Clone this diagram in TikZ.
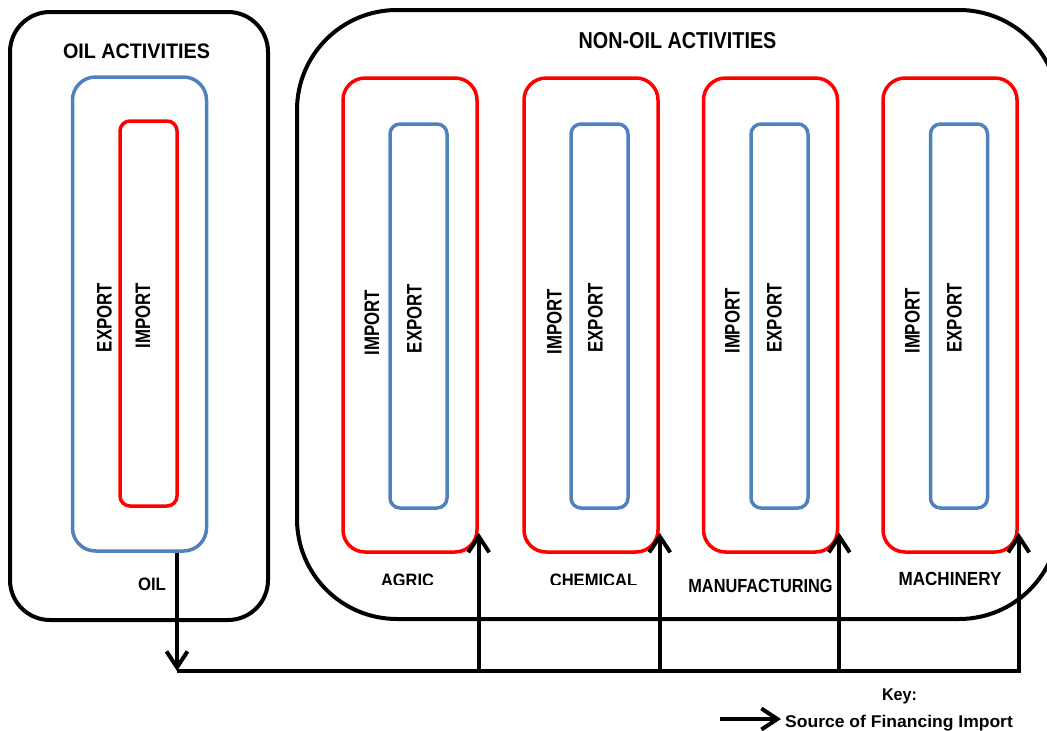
\documentclass[tikz,border=0pt]{standalone}
\usepackage{fontspec}
\setmainfont{Liberation Sans}
\usetikzlibrary{arrows.meta}
\definecolor{boxblue}{HTML}{4F81BD}
\definecolor{boxred}{HTML}{FF0000}
\newcommand\lbl[3]{{\fontsize{#1pt}{#1pt}\selectfont\bfseries\scalebox{#2}[1]{#3}}}
\tikzset{
  blackbox/.style={draw=black, line width=4pt, inner sep=0pt},
  redbox/.style={draw=boxred, line width=3.5pt, inner sep=0pt, rounded corners=22pt},
  bluebox/.style={draw=boxblue, line width=3.5pt, inner sep=0pt, rounded corners=10pt},
  txt/.style={inner sep=0pt, anchor=base},
  vtxt/.style={inner sep=0pt, anchor=center, rotate=90},
  wire/.style={line width=4pt, line cap=butt, line join=miter},
  flow/.style={wire, -{Straight Barb[length=16pt, width=21pt, line width=4pt]}},
}
\begin{document}
\begin{tikzpicture}[x=1pt, y=-1pt]
\useasboundingbox (0,0) rectangle (1047,731);
\clip (0,0) rectangle (1047,731);

% Oil block
\node[blackbox, rounded corners=40pt, minimum width=258pt, minimum height=608pt] (oil) at (139,316) {};
\node[txt] (oiltitle) at (136.5,58) {\lbl{21}{0.94}{OIL ACTIVITIES}};
\node[draw=boxblue, line width=3.5pt, inner sep=0pt, rounded corners=23pt, minimum width=134pt, minimum height=474pt] (oilblue) at (139.5,314) {};
\node[bluebox, draw=boxred, minimum width=57pt, minimum height=385pt] (oilred) at (148.5,313.5) {};
\node[vtxt] (oilexp) at (104.5,317.5) {\lbl{21}{0.8}{EXPORT}};
\node[vtxt] (oilimp) at (143,315.5) {\lbl{21}{0.8}{IMPORT}};
\node[txt] (oillbl) at (152,590) {\lbl{18}{0.93}{OIL}};

% Non-oil block
\node[blackbox, rounded corners=100pt, minimum width=762pt, minimum height=609pt] (nonoil) at (678,314.5) {};
\node[txt] (nonoiltitle) at (677.5,48) {\lbl{23}{0.86}{NON-OIL ACTIVITIES}};

\foreach \n/\rx/\bx/\ix/\iy/\ex/\ey in {1/410/418.5/372/322.5/414.5/318.5,
                                     2/591/599.5/554.5/321.5/595.5/318,
                                     3/770.5/779.5/732.5/321/774.5/318,
                                     4/950/959/912.5/321/954.5/318}{
  \node[redbox, minimum width=134pt, minimum height=474pt] (r\n) at (\rx,315) {};
  \node[bluebox, minimum width=57pt, minimum height=384pt] (b\n) at (\bx,316) {};
  \node[vtxt] (imp\n) at (\ix,\iy) {\lbl{21}{0.8}{IMPORT}};
  \node[vtxt] (exp\n) at (\ex,\ey) {\lbl{21}{0.8}{EXPORT}};
}

\begin{scope}
  \clip (350,560) rectangle (700,584.5);
  \node[txt] (agric) at (407.5,586) {\lbl{18}{0.91}{AGRIC}};
  \node[txt] (chem) at (593.5,586) {\lbl{18}{0.92}{CHEMICAL}};
\end{scope}
\node[txt] (manu) at (760.5,592) {\lbl{19}{0.86}{MANUFACTURING}};
\node[txt] (mach) at (950,585) {\lbl{19}{0.90}{MACHINERY}};

% Flows
\coordinate (busW) at (177,671);
\draw[flow] (busW |- oilblue.south) -- (busW);
\draw[flow, shorten >=-21pt] (busW) -| (r4.south east);
\foreach \n in {1,2,3}{
  \draw[flow, shorten >=-21pt] (r\n.south east |- busW) -- (r\n.south east);
}

% Key
\node[txt] (key) at (899.5,700) {\lbl{17}{0.95}{Key:}};
\node[inner sep=0pt, anchor=base west] (src) at (785,727) {\lbl{17}{1.03}{Source of Financing Import}};
\coordinate (k1) at (720,719);
\draw[flow, shorten >=4pt] (k1) -- (k1 -| src.west);
\end{tikzpicture}
\end{document}
